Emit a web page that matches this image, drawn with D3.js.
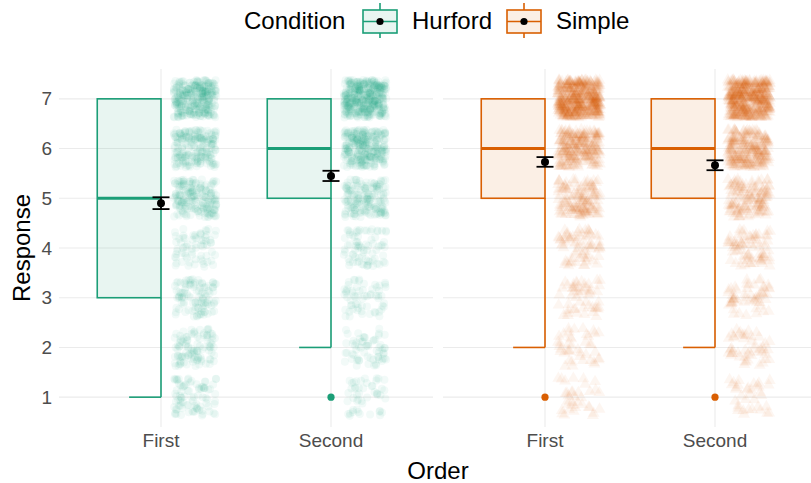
<!DOCTYPE html>
<html>
<head>
<meta charset="utf-8">
<script src="https://cdn.jsdelivr.net/npm/d3@7"></script>
<style>
  body { margin: 0; background: #fff; }
  text { font-family: "Liberation Sans", Arial, sans-serif; }
</style>
</head>
<body>
<div id="chart"></div>
<script>
// Data: counts of each response (1..7) per condition x order
const conditions = ["Hurford", "Simple"];
const orders = ["First", "Second"];
const responseLevels = [1, 2, 3, 4, 5, 6, 7];
const hurfordFirstCounts  = [88, 105, 105, 70, 192, 210, 315];
const hurfordSecondCounts = [49, 63, 63, 77, 168, 280, 402];
const simpleFirstCounts   = [35, 42, 52, 70, 140, 245, 490];
const simpleSecondCounts  = [35, 49, 56, 77, 140, 245, 472];
const yTicks = [1, 2, 3, 4, 5, 6, 7];

const countsBy = {
  Hurford: { First: hurfordFirstCounts, Second: hurfordSecondCounts },
  Simple:  { First: simpleFirstCounts,  Second: simpleSecondCounts }
};
const colors = { Hurford: "#1b9e77", Simple: "#d95f02" };

const width = 811, height = 483;
const svg = d3.select("#chart").append("svg")
  .attr("width", width).attr("height", height);

const panelTop = 69, panelBottom = 427;
const panelLefts = [59, 443];
const panelWidth = 374;

const y = d3.scaleLinear().domain([0.4, 7.6]).range([panelBottom, panelTop]);
const rng = d3.randomLcg(0.137);   // fixed seed -> stable jitter

function expand(counts) {
  const vals = [];
  counts.forEach((c, i) => { for (let k = 0; k < c; k++) vals.push(responseLevels[i]); });
  return vals;
}

conditions.forEach((cond, pi) => {
  const x = d3.scaleLinear().domain([0.4, 2.6])
    .range([panelLefts[pi], panelLefts[pi] + panelWidth]);
  const g = svg.append("g");
  const clipId = "clip" + pi;
  svg.append("clipPath").attr("id", clipId).append("rect")
    .attr("x", panelLefts[pi]).attr("y", panelTop)
    .attr("width", Math.min(panelWidth, width - panelLefts[pi])).attr("height", panelBottom - panelTop);
  g.attr("clip-path", `url(#${clipId})`);

  // grid
  g.selectAll(".hgrid").data(yTicks).enter().append("line")
    .attr("x1", panelLefts[pi]).attr("x2", panelLefts[pi] + panelWidth)
    .attr("y1", d => y(d)).attr("y2", d => y(d))
    .attr("stroke", "#ebebeb").attr("stroke-width", 1.1);
  g.selectAll(".vgrid").data(orders).enter().append("line")
    .attr("x1", (d, i) => x(i + 1)).attr("x2", (d, i) => x(i + 1))
    .attr("y1", panelTop).attr("y2", panelBottom)
    .attr("stroke", "#ebebeb").attr("stroke-width", 1.1);

  const col = colors[cond];

  orders.forEach((ord, oi) => {
    const vals = expand(countsBy[cond][ord]).sort(d3.ascending);
    const cx = oi + 1;
    const q1 = d3.quantile(vals, 0.25), med = d3.quantile(vals, 0.5), q3 = d3.quantile(vals, 0.75);
    const iqr = q3 - q1;
    const lo = d3.min(vals.filter(v => v >= q1 - 1.5 * iqr));
    const hi = d3.max(vals.filter(v => v <= q3 + 1.5 * iqr));
    const outliers = Array.from(new Set(vals.filter(v => v < lo || v > hi)));
    const halfW = 0.375;

    // half boxplot (left side)
    g.append("line").attr("x1", x(cx)).attr("x2", x(cx))
      .attr("y1", y(q1)).attr("y2", y(lo)).attr("stroke", col).attr("stroke-width", 1.6);
    g.append("line").attr("x1", x(cx - halfW / 2)).attr("x2", x(cx))
      .attr("y1", y(lo)).attr("y2", y(lo)).attr("stroke", col).attr("stroke-width", 1.6);
    g.append("line").attr("x1", x(cx)).attr("x2", x(cx))
      .attr("y1", y(q3)).attr("y2", y(hi)).attr("stroke", col).attr("stroke-width", 1.6);
    g.append("rect")
      .attr("x", x(cx - halfW)).attr("width", x(cx) - x(cx - halfW))
      .attr("y", y(q3)).attr("height", y(q1) - y(q3))
      .attr("fill", col).attr("fill-opacity", 0.1)
      .attr("stroke", col).attr("stroke-width", 1.6);
    g.append("line").attr("x1", x(cx - halfW)).attr("x2", x(cx))
      .attr("y1", y(med)).attr("y2", y(med)).attr("stroke", col).attr("stroke-width", 3);
    g.selectAll(null).data(outliers).enter().append("circle")
      .attr("cx", x(cx)).attr("cy", d => y(d)).attr("r", 3.6).attr("fill", col);

    // jittered raw points (right side)
    const pts = vals.map(v => ({
      px: cx + 0.2 + (rng() * 2 - 1) * 0.125,
      py: v + (rng() * 2 - 1) * 0.38
    }));
    if (cond === "Hurford") {
      g.selectAll(null).data(pts).enter().append("circle")
        .attr("cx", d => x(d.px)).attr("cy", d => y(d.py)).attr("r", 4)
        .attr("fill", col).attr("fill-opacity", 0.055);
    } else {
      const tri = d3.symbol().type(d3.symbolTriangle).size(62);
      g.selectAll(null).data(pts).enter().append("path")
        .attr("d", tri)
        .attr("transform", d => `translate(${x(d.px)},${y(d.py)})`)
        .attr("fill", col).attr("fill-opacity", 0.055);
    }

    // mean with 95% CI
    const m = d3.mean(vals);
    const ci = 1.96 * d3.deviation(vals) / Math.sqrt(vals.length);
    const cw = 0.05;
    g.append("line").attr("x1", x(cx)).attr("x2", x(cx))
      .attr("y1", y(m - ci)).attr("y2", y(m + ci)).attr("stroke", "#000").attr("stroke-width", 1.8);
    [m - ci, m + ci].forEach(v => {
      g.append("line").attr("x1", x(cx - cw)).attr("x2", x(cx + cw))
        .attr("y1", y(v)).attr("y2", y(v)).attr("stroke", "#000").attr("stroke-width", 1.8);
    });
    g.append("circle").attr("cx", x(cx)).attr("cy", y(m)).attr("r", 4).attr("fill", "#000");
  });

  // x tick labels
  svg.selectAll(null).data(orders).enter().append("text")
    .attr("x", (d, i) => x(i + 1)).attr("y", 447)
    .attr("text-anchor", "middle").attr("font-size", 19).attr("fill", "#4d4d4d")
    .text(d => d);
});

// y tick labels
svg.selectAll(".ytick").data(yTicks).enter().append("text")
  .attr("x", 52).attr("y", d => y(d)).attr("dy", "0.35em")
  .attr("text-anchor", "end").attr("font-size", 19).attr("fill", "#4d4d4d")
  .text(d => d);

// axis titles
svg.append("text").attr("x", (panelLefts[0] + width) / 2 + 3).attr("y", 479)
  .attr("text-anchor", "middle").attr("font-size", 24).text("Order");
svg.append("text").attr("transform", `translate(30,${(panelTop + panelBottom) / 2}) rotate(-90)`)
  .attr("text-anchor", "middle").attr("font-size", 24).text("Response");

// legend
const legend = svg.append("g");
legend.append("text").attr("x", 244).attr("y", 29).attr("font-size", 24).text("Condition");
const keyX = [363, 507], labX = [412, 556];
conditions.forEach((cond, i) => {
  const col = colors[cond];
  const kx = keyX[i], kw = 34, cxk = kx + kw / 2;
  legend.append("line").attr("x1", cxk).attr("x2", cxk).attr("y1", 3).attr("y2", 38)
    .attr("stroke", col).attr("stroke-width", 1.6);
  legend.append("rect").attr("x", kx).attr("y", 10).attr("width", kw).attr("height", 23)
    .attr("fill", "#fff").attr("stroke", "none");
  legend.append("rect").attr("x", kx).attr("y", 10).attr("width", kw).attr("height", 23)
    .attr("fill", col).attr("fill-opacity", 0.1).attr("stroke", col).attr("stroke-width", 1.6);
  legend.append("line").attr("x1", kx).attr("x2", kx + kw).attr("y1", 21.5).attr("y2", 21.5)
    .attr("stroke", col).attr("stroke-width", 1.6);
  legend.append("circle").attr("cx", cxk).attr("cy", 21.5).attr("r", 3.6).attr("fill", "#000");
  legend.append("text").attr("x", labX[i]).attr("y", 29).attr("font-size", 24).text(cond);
});
</script>
</body>
</html>
